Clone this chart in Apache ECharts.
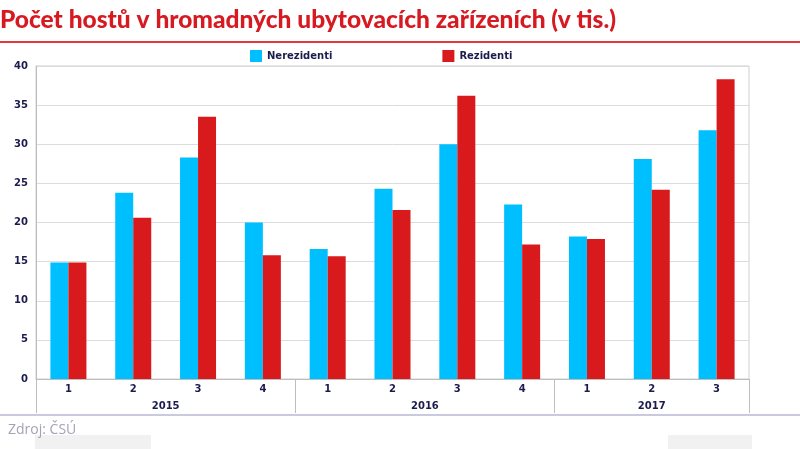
<!DOCTYPE html>
<html>
<head>
<meta charset="utf-8">
<script src="https://cdn.jsdelivr.net/npm/echarts@6/dist/echarts.min.js"></script>
<style>
  html, body { margin: 0; padding: 0; background: #fff; }
  #chart { width: 800px; height: 449px; }
</style>
</head>
<body>
<div id="chart"></div>
<script>
// data (thousands of guests)
const quarters = ['1', '2', '3', '4', '1', '2', '3', '4', '1', '2', '3']
const years = ['2015', '2016', '2017']
const yearSpans = [4, 4, 3]
const nerezidenti = [14.9, 23.8, 28.3, 20.0, 16.6, 24.3, 30.0, 22.3, 18.2, 28.1, 31.8]
const rezidenti = [14.9, 20.6, 33.5, 15.8, 15.7, 21.6, 36.2, 17.2, 17.9, 24.2, 38.3]

// year boundaries and centres on a 0..11 scale
const yearEdges = [0]
const yearMids = []
yearSpans.forEach((n, i) => {
  const start = yearEdges[i]
  yearEdges.push(start + n)
  yearMids.push(start + n / 2)
})

const navy = '#1b1b4d'
const chart = echarts.init(document.getElementById('chart'))

const option = {
  animation: false,
  title: {
    text: 'Počet hostů v hromadných ubytovacích zařízeních (v tis.)',
    left: 0,
    top: 8,
    padding: 0,
    textStyle: { color: '#d71a21', fontSize: 24.5, fontWeight: 900, fontFamily: 'Lato' }
  },
  legend: {
    left: 245,
    top: 45,
    itemWidth: 12,
    itemHeight: 12,
    itemGap: 110,
    icon: 'rect',
    textStyle: { color: navy, fontSize: 10, fontWeight: 'bold', fontFamily: 'DejaVu Sans' },
    data: ['Nerezidenti', 'Rezidenti']
  },
  grid: {
    left: 36, right: 51, top: 66, bottom: 70,
    show: true, borderColor: '#cfcfcf', borderWidth: 1
  },
  xAxis: [
    {
      type: 'category',
      data: quarters,
      axisLine: { lineStyle: { color: '#bdbdbd' } },
      axisTick: { length: 16, lineStyle: { color: '#bdbdbd' } },
      axisLabel: { color: navy, fontSize: 10, fontWeight: 'bold', fontFamily: 'DejaVu Sans', margin: 5 }
    },
    {
      type: 'value',
      position: 'bottom',
      min: 0,
      max: quarters.length,
      axisLine: { show: false },
      splitLine: { show: false },
      axisTick: { show: true, length: 34, customValues: yearEdges, lineStyle: { color: '#bdbdbd' } },
      axisLabel: {
        customValues: yearMids,
        formatter: v => years[yearMids.indexOf(v)],
        color: navy, fontSize: 10, fontWeight: 'bold', fontFamily: 'DejaVu Sans', margin: 22
      }
    }
  ],
  yAxis: {
    type: 'value',
    min: 0,
    max: 40,
    interval: 5,
    axisLine: { show: true, lineStyle: { color: '#bdbdbd' } },
    axisTick: { show: false },
    axisLabel: { color: navy, fontSize: 10, fontWeight: 'bold', fontFamily: 'DejaVu Sans', margin: 8 },
    splitLine: { lineStyle: { color: '#dcdcdc' } }
  },
  series: [
    {
      name: 'Nerezidenti',
      type: 'bar',
      xAxisIndex: 0,
      data: nerezidenti,
      barWidth: 18,
      barGap: '0%',
      itemStyle: { color: '#00bfff' }
    },
    {
      name: 'Rezidenti',
      type: 'bar',
      xAxisIndex: 0,
      data: rezidenti,
      barWidth: 18,
      barGap: '0%',
      itemStyle: { color: '#d81a1c' }
    }
  ],
  graphic: [
    { type: 'rect', shape: { x: 0, y: 41, width: 800, height: 2 }, style: { fill: '#e0393e' } },
    { type: 'rect', shape: { x: 0, y: 414, width: 800, height: 2 }, style: { fill: '#c9c9df' } },
    { type: 'rect', shape: { x: 35, y: 435, width: 116, height: 14 }, style: { fill: '#f1f1f1' } },
    { type: 'rect', shape: { x: 668, y: 435, width: 84, height: 14 }, style: { fill: '#f1f1f1' } },
    {
      type: 'text', left: 8, top: 423,
      style: { text: 'Zdroj: ČSÚ', fill: '#a3a3b6', fontSize: 14, fontFamily: 'Open Sans' }
    }
  ]
}

option && chart.setOption(option)
</script>
</body>
</html>
